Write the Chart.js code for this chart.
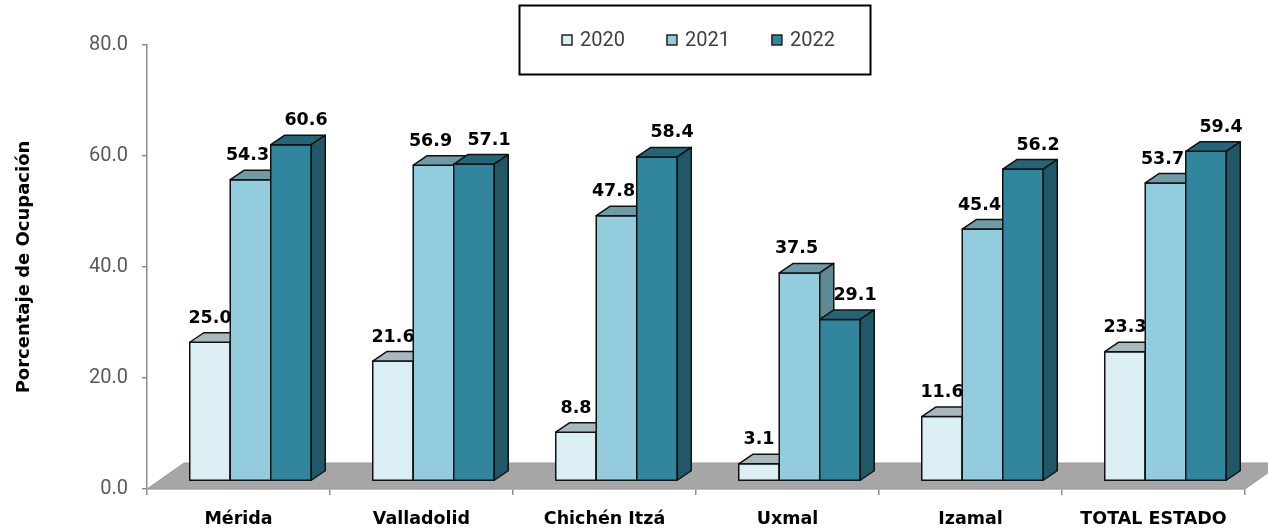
<!DOCTYPE html>
<html><head><meta charset="utf-8">
<script src="https://cdn.jsdelivr.net/npm/chart.js@4.4.0/dist/chart.umd.min.js"></script>
<style>html,body{margin:0;padding:0;background:#fff;}#wrap{width:1268px;height:531px;}</style>
</head><body><div id="wrap"><canvas id="c" width="1268" height="531"></canvas></div>
<script>
const categories = ['Mérida','Valladolid','Chichén Itzá','Uxmal','Izamal','TOTAL ESTADO'];
const years = ['2020','2021','2022'];
const values2020 = [25.0, 21.6, 8.8, 3.1, 11.6, 23.3];
const values2021 = [54.3, 56.9, 47.8, 37.5, 45.4, 53.7];
const values2022 = [60.6, 57.1, 58.4, 29.1, 56.2, 59.4];
const yMin = 0, yMax = 80, yStep = 20;
const axisTitle = 'Porcentaje de Ocupación';

const frontColors = ['#daeef3', '#93cddd', '#31859c'];
const topColors = ['#a8b9be', '#6e9ba6', '#256577'];
const sideColors = ['#8ba4ab', '#5c8993', '#215868'];
const labelShift = [0, -3, 15];

const SX = 12, SY = -8;      // bar plane shift
const DX = 14, DY = -9.5;    // bar depth
const FDX = 37, FDY = -26;   // floor depth
const BOLD = '"DejaVu Sans"';

const three = {
  id: 'three',
  beforeDatasetsDraw(chart) {
    const ctx = chart.ctx, a = chart.chartArea;
    ctx.save();
    ctx.beginPath();
    ctx.moveTo(a.left, a.bottom);
    ctx.lineTo(a.right, a.bottom);
    ctx.lineTo(a.right + FDX, a.bottom + FDY);
    ctx.lineTo(a.left + FDX, a.bottom + FDY);
    ctx.closePath();
    ctx.fillStyle = '#a6a6a6';
    ctx.fill();
    ctx.strokeStyle = '#9a9a9a';
    ctx.lineWidth = 1;
    ctx.stroke();
    ctx.lineJoin = 'round';
    const n = chart.data.labels.length;
    for (let i = 0; i < n; i++) {
      chart.data.datasets.forEach((ds, d) => {
        const el = chart.getDatasetMeta(d).data[i];
        const p = el.getProps(['x', 'y', 'base', 'width'], true);
        const x0 = p.x - p.width / 2 + SX, x1 = p.x + p.width / 2 + SX;
        const yt = p.y + SY, yb = p.base + SY;
        ctx.lineWidth = 1.5;
        ctx.strokeStyle = '#111';
        ctx.beginPath();
        ctx.rect(x0, yt, x1 - x0, yb - yt);
        ctx.fillStyle = frontColors[d];
        ctx.fill(); ctx.stroke();
        ctx.beginPath();
        ctx.moveTo(x0, yt); ctx.lineTo(x1, yt); ctx.lineTo(x1 + DX, yt + DY); ctx.lineTo(x0 + DX, yt + DY); ctx.closePath();
        ctx.fillStyle = topColors[d];
        ctx.fill(); ctx.stroke();
        ctx.beginPath();
        ctx.moveTo(x1, yt); ctx.lineTo(x1 + DX, yt + DY); ctx.lineTo(x1 + DX, yb + DY); ctx.lineTo(x1, yb); ctx.closePath();
        ctx.fillStyle = sideColors[d];
        ctx.fill(); ctx.stroke();
        ctx.fillStyle = '#000';
        ctx.font = 'bold 17.5px ' + BOLD;
        ctx.textAlign = 'center';
        ctx.textBaseline = 'middle';
        ctx.fillText(ds.data[i].toFixed(1), p.x + SX + labelShift[d], yt - 24);
      });
    }
    ctx.restore();
    return false;
  },
  afterDraw(chart) {
    const ctx = chart.ctx, a = chart.chartArea;
    ctx.save();
    const cx = (a.left + a.right) / 2;
    const bw = 351, bh = 69;
    const bx = Math.round(cx - 177);
    ctx.lineWidth = 2;
    ctx.strokeStyle = '#000';
    ctx.strokeRect(bx + 0.5, 5.5, bw, bh);
    ctx.font = '20px Roboto';
    ctx.textBaseline = 'middle';
    ctx.textAlign = 'left';
    let x = bx + 43;
    chart.data.datasets.forEach((ds, d) => {
      ctx.fillStyle = frontColors[d];
      ctx.fillRect(x, 35, 10, 10);
      ctx.lineWidth = 1.5;
      ctx.strokeStyle = '#222';
      ctx.strokeRect(x, 35, 10, 10);
      ctx.fillStyle = '#404040';
      ctx.fillText(ds.label, x + 18, 41);
      x += 18 + ctx.measureText(ds.label).width + 42;
    });
    ctx.restore();
  }
};

new Chart(document.getElementById('c'), {
  type: 'bar',
  data: {
    labels: categories,
    datasets: [
      { label: years[0], data: values2020, backgroundColor: frontColors[0] },
      { label: years[1], data: values2021, backgroundColor: frontColors[1] },
      { label: years[2], data: values2022, backgroundColor: frontColors[2] }
    ]
  },
  options: {
    responsive: false,
    animation: false,
    devicePixelRatio: 1,
    layout: { padding: { top: 45, right: 23, bottom: 0, left: 0 } },
    datasets: { bar: { categoryPercentage: 0.664, barPercentage: 1.0 } },
    plugins: { legend: { display: false }, tooltip: { enabled: false } },
    scales: {
      x: {
        grid: { display: true, drawOnChartArea: false, offset: true, tickLength: 6, color: '#8c8c8c', lineWidth: 1.5 },
        border: { display: true, color: '#c8c8c8', width: 1.5 },
        ticks: { font: { family: BOLD, size: 17.5, weight: 'bold' }, color: '#000', padding: 14, maxRotation: 0, autoSkip: false },
        afterFit(s) { s.height = 42; }
      },
      y: {
        min: yMin, max: yMax,
        ticks: { stepSize: yStep, font: { family: 'Roboto', size: 20 }, color: '#595959', padding: 14, callback: v => Number(v).toFixed(1) },
        grid: { display: true, drawOnChartArea: false, tickLength: 5, color: '#8c8c8c', lineWidth: 1.5 },
        border: { display: true, color: '#8c8c8c', width: 1.5 },
        title: { display: true, text: axisTitle, font: { family: BOLD, size: 18, weight: 'bold' }, color: '#000', padding: { top: 14, bottom: 0 } },
        afterFit(s) { s.width = 147; }
      }
    }
  },
  plugins: [three]
});
</script>
</body></html>
